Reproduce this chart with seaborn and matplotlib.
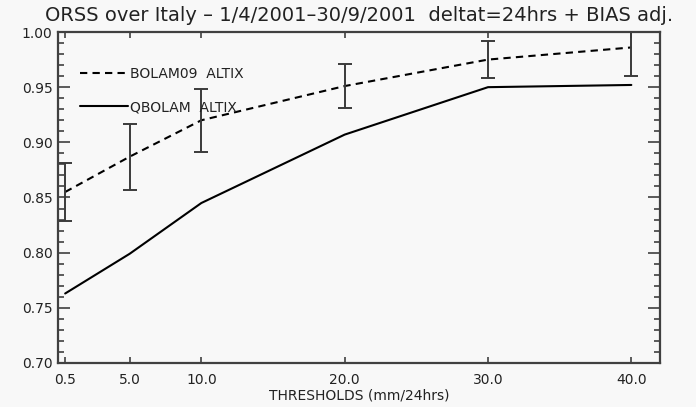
import matplotlib
matplotlib.use("Agg")
import matplotlib.pyplot as plt
import seaborn as sns
import pandas as pd
import numpy as np
from matplotlib.ticker import MultipleLocator, FormatStrFormatter

# ---- data ----
thresholds = [0.5, 5.0, 10.0, 20.0, 30.0, 40.0]
bolam09 = [0.855, 0.887, 0.920, 0.951, 0.975, 0.986]
bolam09_err = [0.026, 0.030, 0.0285, 0.020, 0.017, 0.026]
qbolam = [0.763, 0.799, 0.845, 0.907, 0.950, 0.952]
series_names = ["BOLAM09  ALTIX", "QBOLAM  ALTIX"]
xtick_labels = ["0.5", "5.0", "10.0", "20.0", "30.0", "40.0"]
title = "ORSS over Italy \u2013 1/4/2001\u201330/9/2001  deltat=24hrs + BIAS adj."
xlabel = "THRESHOLDS (mm/24hrs)"

df = pd.DataFrame({
    "threshold": thresholds * 2,
    "orss": bolam09 + qbolam,
    "model": [series_names[0]] * len(thresholds) + [series_names[1]] * len(thresholds),
})

sns.set_theme(style="white")
plt.rcParams["font.family"] = ["DejaVu Sans"]

bg = "#f8f8f8"
fig = plt.figure(figsize=(6.96, 4.07), dpi=100, facecolor=bg)
ax = fig.add_axes([58 / 696, 1 - 363 / 407, (660 - 58) / 696, (363 - 32) / 407])
ax.set_facecolor(bg)

sns.lineplot(data=df, x="threshold", y="orss", style="model",
             style_order=series_names,
             dashes={series_names[0]: (3.5, 2.5), series_names[1]: ""},
             color="black", linewidth=1.5, ax=ax, legend=True)

ax.errorbar(thresholds, bolam09, yerr=bolam09_err, fmt="none",
            ecolor="#3a3a3a", elinewidth=1.4, capsize=5, capthick=1.4)

ax.set_xlim(0, 42)
ax.set_ylim(0.70, 1.00)
ax.set_xticks(thresholds)
ax.set_xticklabels(xtick_labels)
ax.yaxis.set_major_locator(MultipleLocator(0.05))
ax.yaxis.set_minor_locator(MultipleLocator(0.01))
ax.yaxis.set_major_formatter(FormatStrFormatter("%.2f"))

axis_col = "#404040"
for s in ax.spines.values():
    s.set_visible(True)
    s.set_color(axis_col)
    s.set_linewidth(1.6)

ax.tick_params(axis="x", which="major", direction="in", length=4, width=1.2,
               color=axis_col, top=True, bottom=True, labelsize=10, pad=7,
               labelcolor="#222222")
ax.tick_params(axis="y", which="major", direction="in", length=8.5, width=1.2,
               color=axis_col, left=True, right=True, labelsize=10, pad=4,
               labelcolor="#222222")
ax.tick_params(axis="y", which="minor", direction="in", length=4, width=1.2,
               color=axis_col, left=True, right=True)

ax.set_xlabel(xlabel, fontsize=10, color="#222222", labelpad=1)
ax.set_ylabel("")
ax.set_title(title, fontsize=14, color="#222222", pad=8)

leg = ax.legend(loc="upper left", bbox_to_anchor=(0.036, 0.895),
                frameon=False, fontsize=10, handlelength=3.5,
                handletextpad=0.12, labelspacing=1.4,
                borderpad=0, borderaxespad=0)
for t in leg.get_texts():
    t.set_color("#222222")

fig.savefig("out.png", dpi=100, facecolor=bg)
